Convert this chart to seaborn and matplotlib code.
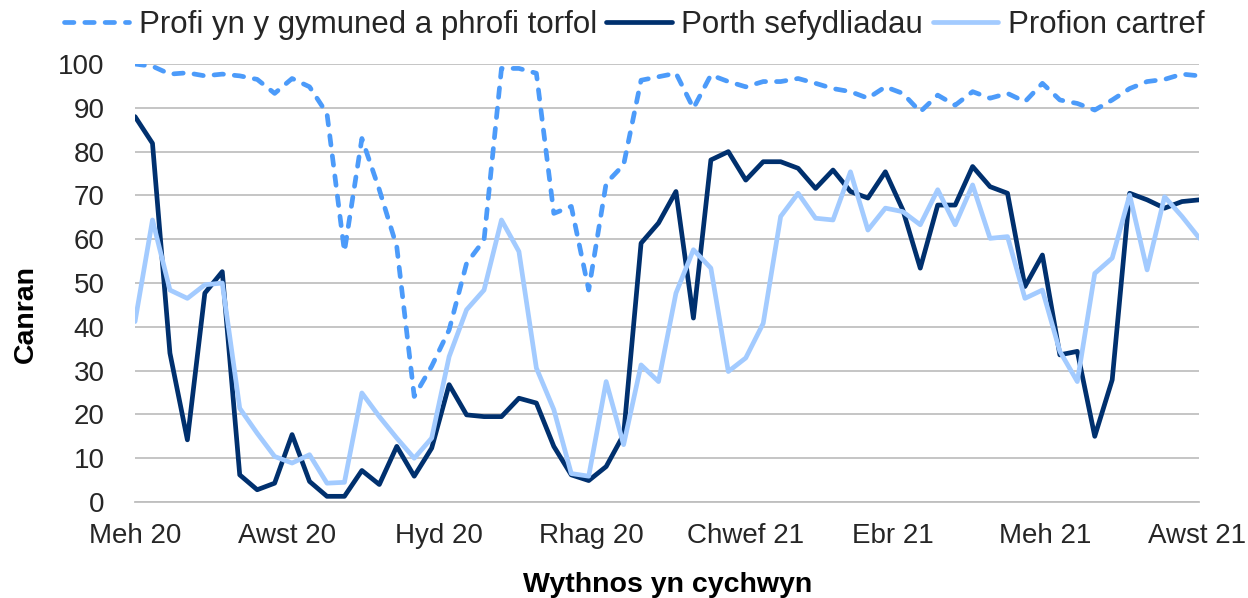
import pandas as pd
import seaborn as sns
import matplotlib.pyplot as plt

# weekly values, first week starting Mon 1 June 2020
start_week = "2020-06-01"

cymuned = [100, 99.5, 97.7, 98, 97.3, 97.7, 97.3, 96.5, 93.3, 96.7,
           94.8, 88.7, 57.2, 83.0, 71.3, 58.3, 24.1, 31.0, 39.3, 54.5,
           59.8, 99.0, 99.0, 97.9, 65.9, 67.5, 48.4, 72.8, 77.0, 96.3,
           97.1, 97.9, 89.9, 97.5, 96.0, 94.8, 96.0, 96.0, 96.7, 95.6,
           94.4, 93.7, 92.2, 94.8, 93.3, 89.1, 92.9, 90.6, 93.7, 92.2,
           93.3, 91.4, 95.6, 91.8, 91.0, 89.5, 91.8, 94.4, 96.0, 96.5,
           97.7, 97.3]

sefydliadau = [88.0, 81.9, 34.0, 14.2, 47.7, 52.6, 6.2, 2.8, 4.3, 15.4,
               4.7, 1.3, 1.3, 7.2, 4.0, 12.7, 5.9, 12.3, 26.8, 19.9,
               19.5, 19.5, 23.7, 22.6, 12.7, 6.2, 4.9, 8.1, 15.4, 59.1,
               63.7, 70.9, 42.0, 78.1, 80.0, 73.5, 77.7, 77.7, 76.2, 71.6,
               75.8, 70.9, 69.4, 75.4, 66.7, 53.4, 67.8, 67.8, 76.6, 72.0,
               70.5, 49.2, 56.4, 33.6, 34.4, 15.0, 27.9, 70.5, 69.0, 67.1,
               68.6, 69.0]

cartref = [41.2, 64.4, 48.4, 46.5, 49.6, 50.0, 21.4, 15.7, 10.4, 8.9,
           10.8, 4.3, 4.5, 24.9, 19.5, 14.6, 10.0, 14.6, 33.2, 43.9,
           48.4, 64.4, 57.2, 30.6, 21.1, 6.5, 5.9, 27.5, 13.1, 31.3,
           27.5, 47.7, 57.6, 53.4, 29.8, 32.9, 40.8, 65.2, 70.5, 64.8,
           64.4, 75.4, 62.1, 67.1, 66.3, 63.3, 71.3, 63.3, 72.4, 60.2,
           60.6, 46.5, 48.4, 34.4, 27.5, 52.2, 55.7, 70.1, 53.0, 69.7,
           65.2, 60.2]

series_names = ["Profi yn y gymuned a phrofi torfol", "Porth sefydliadau", "Profion cartref"]
tick_dates = ["2020-06-01", "2020-08-01", "2020-10-01", "2020-12-01",
              "2021-02-01", "2021-04-01", "2021-06-01", "2021-08-01"]
tick_labels = ["Meh 20", "Awst 20", "Hyd 20", "Rhag 20",
               "Chwef 21", "Ebr 21", "Meh 21", "Awst 21"]

weeks = pd.date_range(start_week, periods=len(cymuned), freq="7D")
frames = []
for name, vals in zip(series_names, [cymuned, sefydliadau, cartref]):
    frames.append(pd.DataFrame({"week": weeks, "value": vals, "series": name}))
df = pd.concat(frames, ignore_index=True)

sns.set_style("white")
plt.rcParams["font.family"] = ["Liberation Sans", "DejaVu Sans"]

colors = {series_names[0]: "#4C9BFA", series_names[1]: "#00306E", series_names[2]: "#A3CBFF"}
dash_map = {series_names[0]: (2.0, 2.3), series_names[1]: "", series_names[2]: ""}

fig = plt.figure(figsize=(12.48, 5.98), dpi=100)
ax = fig.add_axes([0.1082, 0.1605, 0.8529, 0.7324])

sns.lineplot(data=df, x="week", y="value", hue="series", style="series",
             hue_order=series_names, style_order=series_names,
             palette=colors, dashes=dash_map, linewidth=3.4,
             dash_capstyle="round", ax=ax)

ax.set_ylim(0, 100)
ax.set_yticks(range(0, 101, 10))
ax.set_xlim(weeks[0], weeks[-1])
ax.set_xticks(pd.to_datetime(tick_dates))
ax.set_xticklabels(tick_labels)

ax.grid(axis="y", color="#C0C0C0", linewidth=1.3)
ax.set_axisbelow(True)
for side in ["top", "right", "left"]:
    ax.spines[side].set_visible(False)
ax.spines["bottom"].set_color("#BFBFBF")
ax.spines["bottom"].set_linewidth(1.3)
ax.tick_params(axis="both", labelsize=20, colors="#BFBFBF", labelcolor="#262626",
               length=5, width=1.3)
ax.tick_params(axis="y", pad=17)
ax.tick_params(axis="x", pad=10)

ax.set_xlabel("Wythnos yn cychwyn", fontsize=20.5, fontweight="bold", color="black")
ax.set_ylabel("Canran", fontsize=20.5, fontweight="bold", color="black")
ax.xaxis.set_label_coords(0.5, -0.159)
ax.yaxis.set_label_coords(-0.09, 0.43)

handles, labels = ax.get_legend_handles_labels()
ax.legend(handles, labels, loc="center", bbox_to_anchor=(0.508, 0.958),
          bbox_transform=fig.transFigure, ncol=3, frameon=False,
          fontsize=22.5, handlelength=2.1, handletextpad=0.3, columnspacing=0.3,
          borderaxespad=0)

fig.savefig("out.png", dpi=100)
